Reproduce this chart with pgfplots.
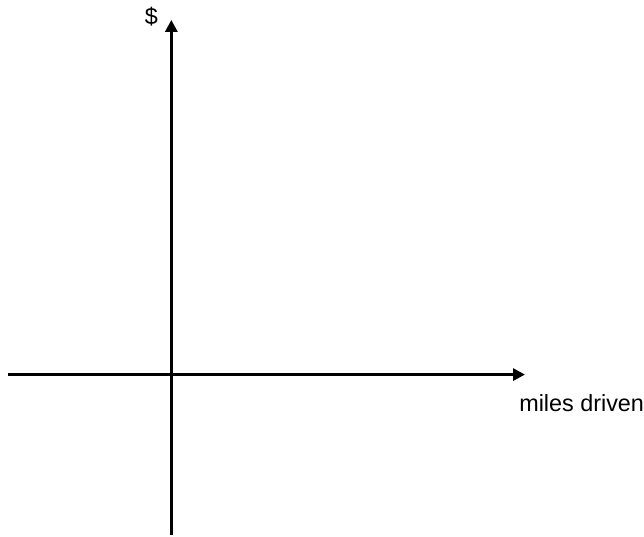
\documentclass[border=0pt]{standalone}
\usepackage{pgfplots}
\pgfplotsset{compat=1.18}
\usepackage{fontspec}
\setmainfont{Liberation Sans}
\usetikzlibrary{arrows.meta}
\begin{document}
\begin{tikzpicture}
\begin{axis}[
  x=0.75pt, y=0.75pt,
  axis lines=middle,
  xmin=-164, xmax=355,
  ymin=-161, ymax=356,
  xtick=\empty, ytick=\empty,
  clip=false,
  axis line style={line width=2.4pt, black},
  x axis line style={line width=2.4pt, -{Triangle[length=9pt,width=9pt]}},
  y axis line style={line width=2.4pt, -{Triangle[length=9pt,width=9pt]}},
]
\addplot[draw=none] coordinates {(0,0)};
\path (axis cs:-172,-163) rectangle (axis cs:472,376);
\node[anchor=base west, font=\fontsize{17.6}{20}\selectfont, inner sep=0pt] at (axis cs:349,-37) {miles driven};
\node[font=\fontsize{17.6}{20}\selectfont, inner sep=0pt] at (axis cs:-20,359) {\$};
\end{axis}
\end{tikzpicture}
\end{document}
